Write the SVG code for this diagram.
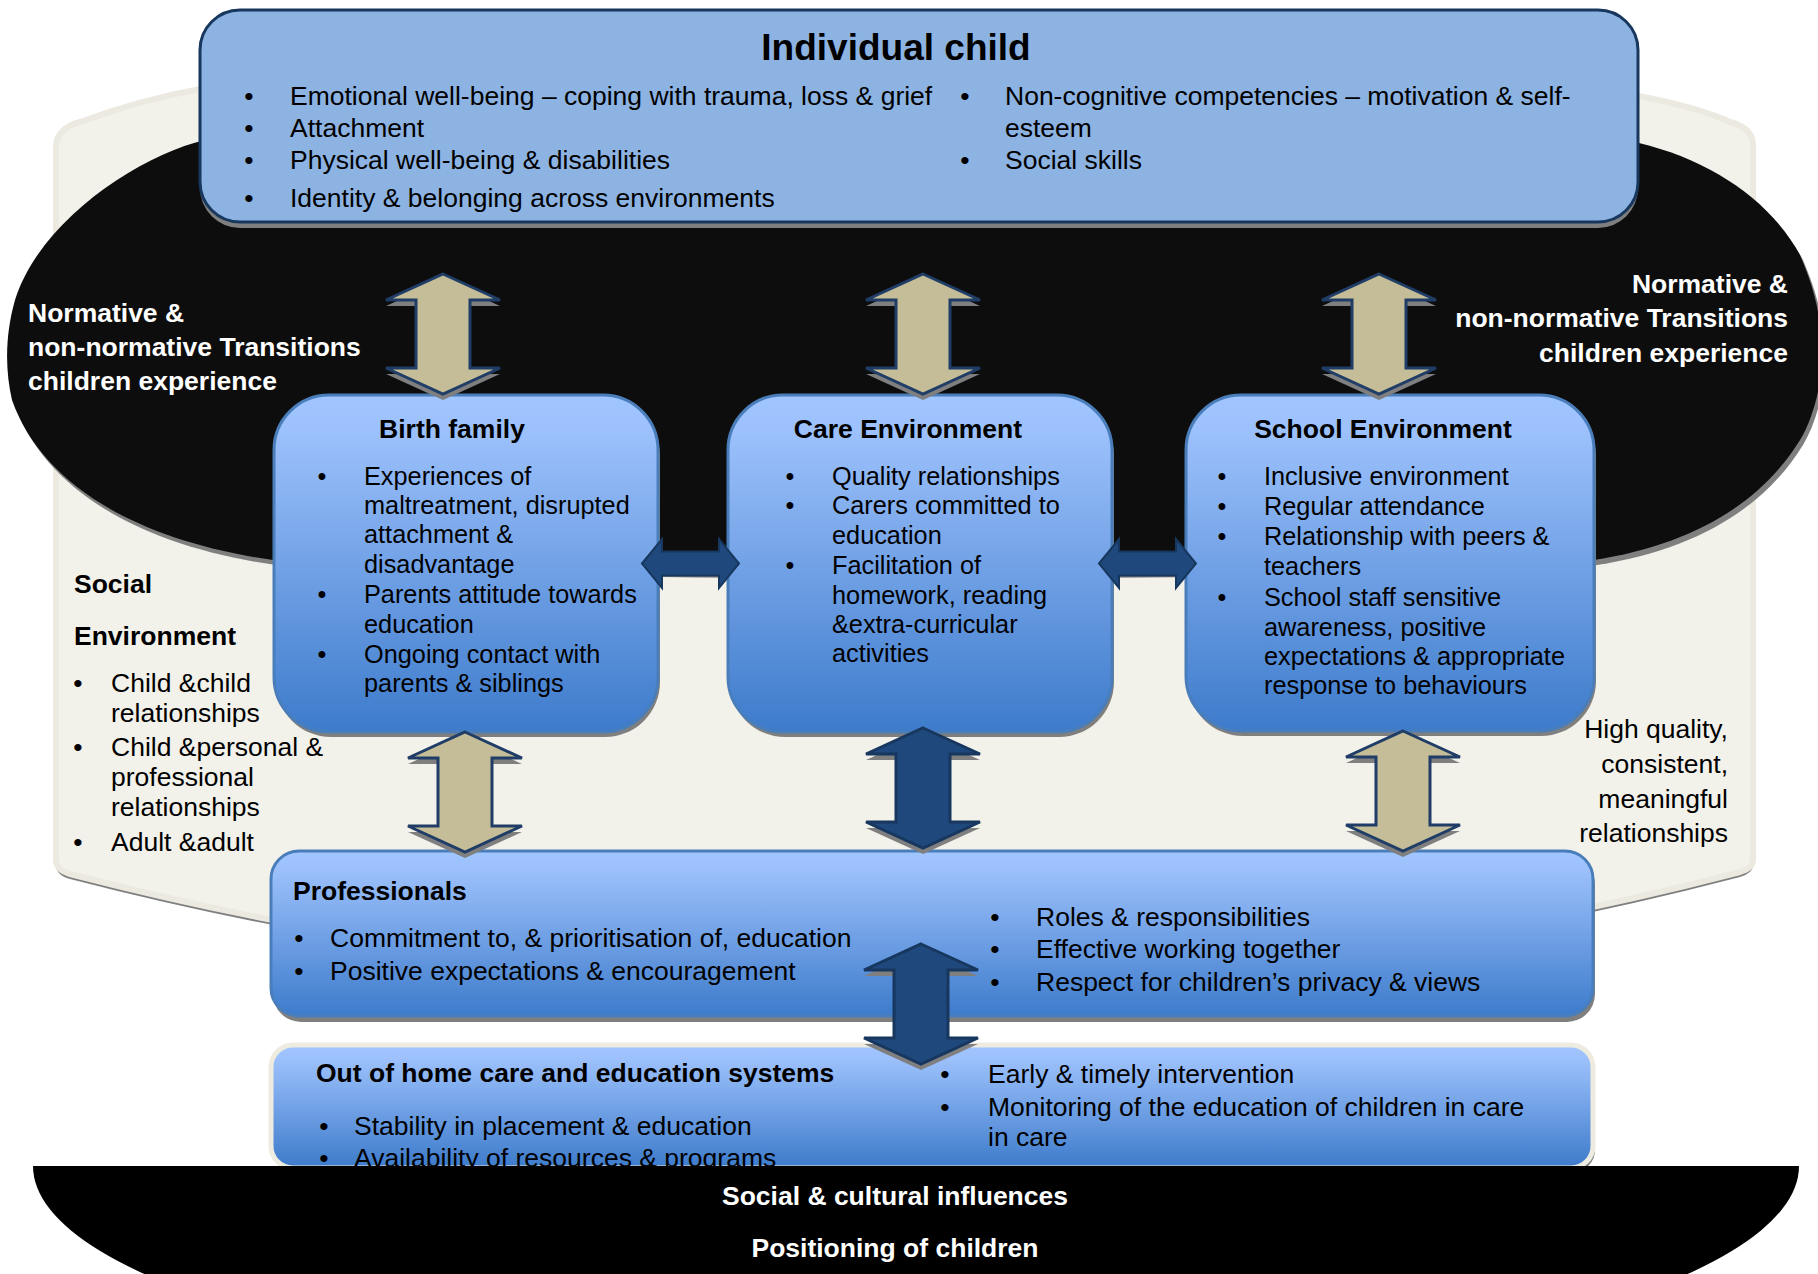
<svg xmlns="http://www.w3.org/2000/svg" width="1818" height="1274" viewBox="0 0 1818 1274">
<defs>
<linearGradient id="gb" x1="0" y1="0" x2="0" y2="1">
<stop offset="0" stop-color="#A0C5FF"/>
<stop offset="0.12" stop-color="#9BC0FB"/>
<stop offset="1" stop-color="#3D7BCB"/>
</linearGradient>
<path id="va" d="M0,0 L57,26 L27,26 L27,94 L57,94 L0,120 L-57,94 L-27,94 L-27,26 L-57,26 Z"/>
<path id="ha" d="M0,0 L20,-24.5 L20,-12 L77,-12 L77,-24.5 L97,0 L77,24.5 L77,12 L20,12 L20,24.5 Z"/>
<path id="cream" d="M56,145 Q58,128 80,122 Q140,100 200,89 L600,40 L1250,40 L1639,96 Q1700,108 1730,122 Q1753,128 1753,145 L1753,860 Q1753,868 1740,872 Q905,1090 70,874 Q56,870 56,860 Z"/>
<path id="blk" d="M205,140 C140,155 40,220 15,300 C5,335 5,370 12,400 C40,480 130,540 273,560 C500,578 1350,578 1594,560 C1690,545 1760,505 1800,440 C1815,415 1822,380 1822,355 C1822,320 1815,290 1800,255 C1770,200 1710,160 1639,143 Z"/>
</defs>
<style>
.t{font-family:"Liberation Sans",Arial,sans-serif;font-size:26.5px;fill:#000}
.b{font-weight:bold}
.m{font-size:25.3px}
.w{fill:#fff}
.c{text-anchor:middle}
.e{text-anchor:end}
.sh{fill:#7F7F7F}
.box{fill:url(#gb);stroke:#4A7EBB;stroke-width:3}
.beige{fill:#C4BD97;stroke:#1F3D66;stroke-width:3}
.navy{fill:#1F497D;stroke:#17375E;stroke-width:3}
.hnavy{fill:#1F497D;stroke:#17375E;stroke-width:2}
</style>
<rect width="1818" height="1274" fill="#fff"/>

<g id="social-environment">
<use href="#cream" class="sh" transform="translate(0,5)"/>
<use href="#cream" fill="#F2F1EA" stroke="#ECEAE0" stroke-width="6"/>
<text class="t b" x="74" y="593">Social</text>
<text class="t b" x="74" y="645">Environment</text>
<text class="t c" x="78" y="692">•</text>
<text class="t c" x="78" y="756">•</text>
<text class="t c" x="78" y="851">•</text>
<text class="t" x="111" y="692">Child &amp;child</text>
<text class="t" x="111" y="722">relationships</text>
<text class="t" x="111" y="756">Child &amp;personal &amp;</text>
<text class="t" x="111" y="786">professional</text>
<text class="t" x="111" y="816">relationships</text>
<text class="t" x="111" y="851">Adult &amp;adult</text>
<text class="t e" x="1728" y="738">High quality,</text>
<text class="t e" x="1728" y="773">consistent,</text>
<text class="t e" x="1728" y="808">meaningful</text>
<text class="t e" x="1728" y="842">relationships</text>
</g>

<g id="transitions">
<use href="#blk" class="sh" transform="translate(3,5)"/>
<use href="#blk" fill="#0D0D0D"/>
<text class="t b w" x="28" y="322">Normative &amp;</text>
<text class="t b w" x="28" y="356">non-normative Transitions</text>
<text class="t b w" x="28" y="390">children experience</text>
<text class="t b w e" x="1788" y="293">Normative &amp;</text>
<text class="t b w e" x="1788" y="327">non-normative Transitions</text>
<text class="t b w e" x="1788" y="362">children experience</text>
</g>

<g id="individual-child">
<rect x="200" y="16" width="1438" height="212" rx="40" class="sh"/>
<rect x="200" y="10" width="1438" height="212" rx="40" fill="#8DB3E2" stroke="#17375E" stroke-width="3"/>
<text class="t b c" x="896" y="60" style="font-size:37px">Individual child</text>
<text class="t c" x="249" y="105">•</text>
<text class="t c" x="249" y="137">•</text>
<text class="t c" x="249" y="169">•</text>
<text class="t c" x="249" y="207">•</text>
<text class="t" x="290" y="105">Emotional well-being – coping with trauma, loss &amp; grief</text>
<text class="t" x="290" y="137">Attachment</text>
<text class="t" x="290" y="169">Physical well-being &amp; disabilities</text>
<text class="t" x="290" y="207">Identity &amp; belonging across environments</text>
<text class="t c" x="965" y="105">•</text>
<text class="t c" x="965" y="169">•</text>
<text class="t" x="1005" y="105">Non-cognitive competencies – motivation &amp; self-</text>
<text class="t" x="1005" y="137">esteem</text>
<text class="t" x="1005" y="169">Social skills</text>
</g>

<g id="birth-family">
<rect x="276" y="400" width="384" height="337" rx="55" class="sh"/>
<rect x="274" y="395" width="384" height="337" rx="55" class="box"/>
<text class="t b c" x="452" y="438">Birth family</text>
<text class="t m c" x="322" y="485">•</text>
<text class="t m c" x="322" y="603">•</text>
<text class="t m c" x="322" y="663">•</text>
<text class="t m" x="364" y="485">Experiences of</text>
<text class="t m" x="364" y="514">maltreatment, disrupted</text>
<text class="t m" x="364" y="543">attachment &amp;</text>
<text class="t m" x="364" y="573">disadvantage</text>
<text class="t m" x="364" y="603">Parents attitude towards</text>
<text class="t m" x="364" y="633">education</text>
<text class="t m" x="364" y="663">Ongoing contact with</text>
<text class="t m" x="364" y="692">parents &amp; siblings</text>
</g>

<g id="care-environment">
<rect x="730" y="400" width="384" height="337" rx="55" class="sh"/>
<rect x="728" y="395" width="384" height="337" rx="55" class="box"/>
<text class="t b c" x="908" y="438">Care Environment</text>
<text class="t m c" x="790" y="485">•</text>
<text class="t m c" x="790" y="514">•</text>
<text class="t m c" x="790" y="574">•</text>
<text class="t m" x="832" y="485">Quality relationships</text>
<text class="t m" x="832" y="514">Carers committed to</text>
<text class="t m" x="832" y="544">education</text>
<text class="t m" x="832" y="574">Facilitation of</text>
<text class="t m" x="832" y="604">homework, reading</text>
<text class="t m" x="832" y="633">&amp;extra-curricular</text>
<text class="t m" x="832" y="662">activities</text>
</g>

<g id="school-environment">
<rect x="1188" y="400" width="408" height="336" rx="55" class="sh"/>
<rect x="1186" y="395" width="408" height="336" rx="55" class="box"/>
<text class="t b c" x="1383" y="438">School Environment</text>
<text class="t m c" x="1222" y="485">•</text>
<text class="t m c" x="1222" y="515">•</text>
<text class="t m c" x="1222" y="545">•</text>
<text class="t m c" x="1222" y="606">•</text>
<text class="t m" x="1264" y="485">Inclusive environment</text>
<text class="t m" x="1264" y="515">Regular attendance</text>
<text class="t m" x="1264" y="545">Relationship with peers &amp;</text>
<text class="t m" x="1264" y="575">teachers</text>
<text class="t m" x="1264" y="606">School staff sensitive</text>
<text class="t m" x="1264" y="636">awareness, positive</text>
<text class="t m" x="1264" y="665">expectations &amp; appropriate</text>
<text class="t m" x="1264" y="694">response to behaviours</text>
</g>

<g id="professionals">
<rect x="273" y="857" width="1322" height="165" rx="28" class="sh"/>
<rect x="271" y="851" width="1322" height="165" rx="28" class="box"/>
<text class="t b" x="293" y="900">Professionals</text>
<text class="t c" x="299" y="947">•</text>
<text class="t c" x="299" y="980">•</text>
<text class="t" x="330" y="947">Commitment to, &amp; prioritisation of, education</text>
<text class="t" x="330" y="980">Positive expectations &amp; encouragement</text>
<text class="t c" x="995" y="926">•</text>
<text class="t c" x="995" y="958">•</text>
<text class="t c" x="995" y="991">•</text>
<text class="t" x="1036" y="926">Roles &amp; responsibilities</text>
<text class="t" x="1036" y="958">Effective working together</text>
<text class="t" x="1036" y="991">Respect for children’s privacy &amp; views</text>
</g>

<g id="out-of-home-care">
<rect x="273" y="1049" width="1322" height="123" rx="22" class="sh"/>
<rect x="271" y="1045" width="1322" height="123" rx="22" fill="url(#gb)" stroke="#EEECE1" stroke-width="5"/>
<text class="t b" x="316" y="1082">Out of home care and education systems</text>
<text class="t c" x="324" y="1135">•</text>
<text class="t c" x="324" y="1167">•</text>
<text class="t" x="354" y="1135">Stability in placement &amp; education</text>
<text class="t" x="354" y="1167">Availability of resources &amp; programs</text>
<text class="t c" x="945" y="1083">•</text>
<text class="t c" x="945" y="1116">•</text>
<text class="t" x="988" y="1083">Early &amp; timely intervention</text>
<text class="t" x="988" y="1116">Monitoring of the education of children in care</text>
<text class="t" x="988" y="1146">in care</text>
</g>

<g id="social-cultural">
<path d="M33,1166 L1799,1166 A883,222 0 0 1 33,1166 Z" fill="#000"/>
<text class="t b w c" x="895" y="1205">Social &amp; cultural influences</text>
<text class="t b w c" x="895" y="1257">Positioning of children</text>
</g>

<g id="connectors">
<use href="#va" class="sh" transform="translate(443,280)"/>
<use href="#va" class="beige" transform="translate(443,274)"/>
<use href="#va" class="sh" transform="translate(923,280)"/>
<use href="#va" class="beige" transform="translate(923,274)"/>
<use href="#va" class="sh" transform="translate(1379,280)"/>
<use href="#va" class="beige" transform="translate(1379,274)"/>
<use href="#ha" class="hnavy" transform="translate(642,563.5)"/>
<use href="#ha" class="hnavy" transform="translate(1099,563.5)"/>
<use href="#va" class="sh" transform="translate(465,738)"/>
<use href="#va" class="beige" transform="translate(465,732)"/>
<use href="#va" class="sh" transform="translate(923,734)"/>
<use href="#va" class="navy" transform="translate(923,728)"/>
<use href="#va" class="sh" transform="translate(1403,737)"/>
<use href="#va" class="beige" transform="translate(1403,731)"/>
<use href="#va" class="sh" transform="translate(921,950)"/>
<use href="#va" class="navy" transform="translate(921,944)"/>
</g>
</svg>
